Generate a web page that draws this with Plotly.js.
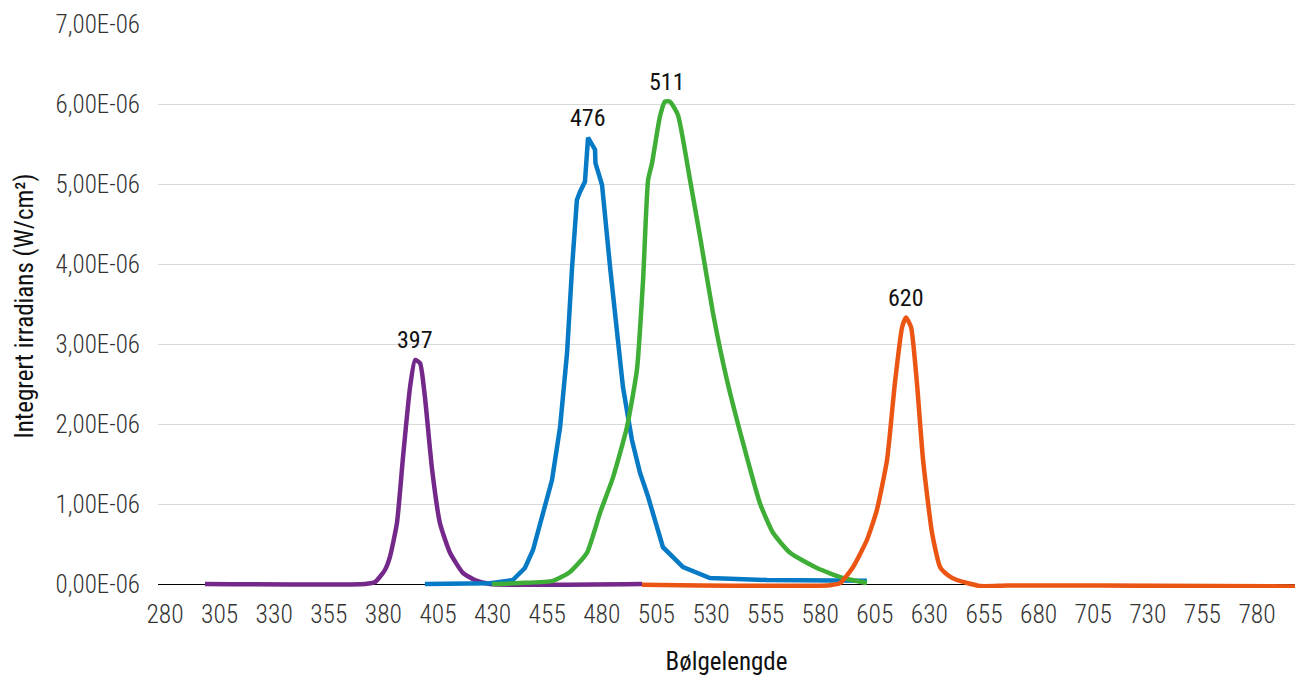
<!DOCTYPE html>
<html>
<head>
<meta charset="utf-8">
<script src="https://cdn.plot.ly/plotly-3.0.1.min.js"></script>
<style>html,body{margin:0;padding:0;background:#fff}#chart{width:1295px;height:677px}</style>
</head>
<body>
<div id="chart"></div>
<script>
// Wavelength (nm) and integrated irradiance (in 1e-6 W/cm²)
const purpleX = [298.3, 371.6, 376.2, 378.4, 380.7, 383.0, 386.2, 389.0, 392.2, 394.5, 396.8, 399.0, 402.3, 405.9, 410.5, 416.4, 421.9, 428.8, 498.4];
const purpleY = [0, 0, 0.025, 0.09, 0.175, 0.34, 0.76, 1.59, 2.46, 2.80, 2.76, 2.34, 1.43, 0.76, 0.39, 0.14, 0.05, 0, 0];

const blueX = [399.0, 428.8, 439.3, 444.8, 448.5, 453.1, 457.2, 460.9, 464.1, 466.4, 468.6, 470.0, 472.3, 473.7, 476.9, 477.1, 480.1, 483.8, 487.0, 489.7, 493.8, 497.5, 501.2, 504.4, 508.0, 517.2, 529.5, 555.6, 585.9, 601.4];
const blueY = [0, 0.01, 0.05, 0.2, 0.425, 0.89, 1.3, 1.96, 2.89, 3.96, 4.8, 4.9, 5.03, 5.58, 5.43, 5.26, 4.99, 3.96, 3.14, 2.46, 1.8, 1.39, 1.09, 0.8, 0.46, 0.21, 0.075, 0.05, 0.04, 0.04];

const greenX = [429.7, 442.5, 457.7, 465.4, 473.2, 479.2, 485.1, 491.5, 496.1, 498.9, 501.2, 503.0, 506.6, 508.9, 511.2, 514.9, 520.4, 525.0, 530.9, 537.3, 544.7, 552.4, 558.4, 566.2, 578.5, 590.4, 601.4];
const greenY = [0, 0.0125, 0.04, 0.15, 0.39, 0.89, 1.33, 1.96, 2.68, 3.8, 5.05, 5.26, 5.84, 6.03, 6.03, 5.86, 5.05, 4.34, 3.39, 2.55, 1.76, 1.01, 0.64, 0.39, 0.2, 0.075, 0.0125];

const orangeX = [498.4, 525.0, 584.5, 589.1, 595.0, 601.4, 606.0, 610.6, 614.2, 617.5, 619.3, 621.6, 624.3, 627.1, 631.2, 634.9, 638.5, 642.6, 653.2, 665.5, 708.0, 797.4];
const orangeY = [-0.01, -0.02, -0.015, 0.01, 0.21, 0.55, 0.93, 1.55, 2.51, 3.21, 3.33, 3.21, 2.51, 1.55, 0.64, 0.21, 0.11, 0.05, -0.025, -0.02, -0.02, -0.03];

const peakLabels = ["397", "476", "511", "620"];
const peakX = [394.5, 473.7, 509.9, 619.3];
const peakY = [2.80, 5.58, 6.03, 3.33];

const xTicks = [280, 305, 330, 355, 380, 405, 430, 455, 480, 505, 530, 555, 580, 605, 630, 655, 680, 705, 730, 755, 780];
const yTicks = [0, 1, 2, 3, 4, 5, 6, 7];
const yTickText = ["0,00E-06", "1,00E-06", "2,00E-06", "3,00E-06", "4,00E-06", "5,00E-06", "6,00E-06", "7,00E-06"];

const FONT = '"Roboto Condensed", Roboto, sans-serif';
const scale = v => v.map(y => y * 1e-6);

function tr(x, y, color, shape) {
  return {x: x, y: scale(y), type: 'scatter', mode: 'lines',
    line: {color: color, width: 4.5, shape: shape, smoothing: 0.5},
    hoverinfo: 'skip', showlegend: false};
}

const data = [
  tr(purpleX, purpleY, '#74288a', 'spline'),
  tr(blueX, blueY, '#077ac5', 'linear'),
  tr(greenX, greenY, '#3eae37', 'spline'),
  tr(orangeX, orangeY, '#ea5514', 'spline')
];

const annotations = peakLabels.map((t, i) => ({
  x: peakX[i], y: peakY[i] * 1e-6, xref: 'x', yref: 'y', text: t, showarrow: false,
  yanchor: 'bottom', yshift: 4, font: {family: FONT, size: 24, color: '#111'}
}));

const layout = {
  width: 1295, height: 677,
  margin: {l: 158, r: 0, t: 24, b: 89},
  paper_bgcolor: '#fff', plot_bgcolor: '#fff',
  font: {family: FONT, size: 24, color: '#333'},
  xaxis: {
    range: [276.8, 797.4], tickvals: xTicks, ticktext: xTicks.map(String),
    showgrid: false, zeroline: false, showline: false, ticks: '',
    ticklabelstandoff: 8,
    tickfont: {family: FONT, size: 25.5, color: '#333', weight: 300},
    title: {text: 'Bølgelengde', font: {family: FONT, size: 25, color: '#111'}, standoff: 24}
  },
  yaxis: {
    range: [-0.05e-6, 7e-6], tickvals: scale(yTicks), ticktext: yTickText,
    showgrid: true, gridcolor: '#d9d9d9', gridwidth: 1,
    zeroline: true, zerolinecolor: '#000', zerolinewidth: 1,
    showline: false, ticks: '', ticklabelstandoff: 17,
    tickfont: {family: FONT, size: 25, color: '#333', weight: 300},
    title: {text: 'Integrert irradians (W/cm²)', font: {family: FONT, size: 25, color: '#111'}, standoff: 14}
  },
  annotations: annotations
};

Plotly.newPlot('chart', data, layout, {staticPlot: true, displayModeBar: false});
</script>
</body>
</html>
